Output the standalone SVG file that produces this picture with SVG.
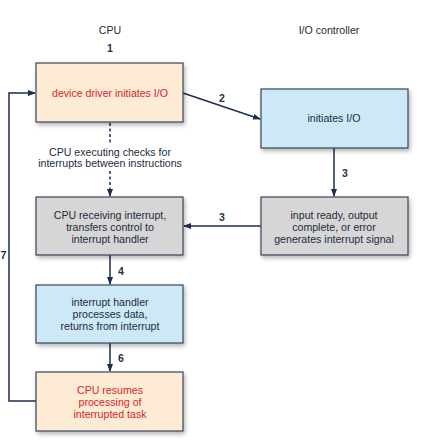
<svg xmlns="http://www.w3.org/2000/svg" width="425" height="448" viewBox="0 0 425 448">
<defs>
<style>
text{font-family:"Liberation Sans",Arial,sans-serif;font-size:10.6px;fill:#222b3c;text-anchor:middle}
.red{fill:#d8262b}
.num{font-weight:bold;font-size:10.5px;fill:#223050}
.box{stroke:#3a4459;stroke-width:1.2;filter:url(#sh)}
.peach{fill:#fdebd5}
.blue{fill:#cde9f8}
.gray{fill:#d6d6d6}
.ln{stroke:#1e2d52;stroke-width:1.5;fill:none}
.dash{stroke:#1e2d52;stroke-width:1.5;fill:none;stroke-dasharray:3,2.5}
</style>
<filter id="sh" x="-10%" y="-10%" width="130%" height="130%">
<feDropShadow dx="1.5" dy="2.5" stdDeviation="2" flood-color="#000" flood-opacity="0.3"/>
</filter>
<marker id="ah" markerWidth="8" markerHeight="6" refX="7" refY="3" orient="auto" markerUnits="userSpaceOnUse">
<path d="M0,0 L8,3 L0,6 Z" fill="#1e2d52"/>
</marker>
</defs>
<rect width="425" height="448" fill="#fff"/>
<text x="110" y="34">CPU</text>
<text x="110" y="52" class="num">1</text>
<text x="329" y="34">I/O controller</text>

<g id="connectors">
<line class="ln" x1="183" y1="93" x2="260" y2="119" marker-end="url(#ah)"/>
<text class="num" x="222" y="102">2</text>
<line class="dash" x1="110" y1="123" x2="110" y2="143"/>
<line class="dash" x1="110" y1="171" x2="110" y2="196" marker-end="url(#ah)"/>
<line class="ln" x1="334" y1="148" x2="334" y2="196" marker-end="url(#ah)"/>
<text class="num" x="345" y="177">3</text>
<line class="ln" x1="261" y1="226" x2="184" y2="226" marker-end="url(#ah)"/>
<text class="num" x="222" y="221">3</text>
<line class="ln" x1="110" y1="255" x2="110" y2="284" marker-end="url(#ah)"/>
<text class="num" x="121" y="275">4</text>
<line class="ln" x1="110" y1="343" x2="110" y2="371" marker-end="url(#ah)"/>
<text class="num" x="121" y="362">6</text>
<polyline class="ln" points="36,401 9,401 9,93 35,93" marker-end="url(#ah)"/>
<text class="num" x="3.5" y="259">7</text>
</g>

<g id="n1">
<rect class="box peach" x="36" y="63" width="147" height="59"/>
<text class="red" x="110" y="96.5">device driver initiates I/O</text>
</g>
<g id="n2">
<rect class="box blue" x="261" y="89" width="147" height="59"/>
<text x="334" y="122">initiates I/O</text>
</g>
<g id="note">
<text x="110" y="155.5">CPU executing checks for</text>
<text x="110" y="166.5">interrupts between instructions</text>
</g>
<g id="n3">
<rect class="box gray" x="36" y="197" width="147" height="58"/>
<text x="110" y="218.5">CPU receiving interrupt,</text>
<text x="110" y="230.5">transfers control to</text>
<text x="110" y="242.5">interrupt handler</text>
</g>
<g id="n4">
<rect class="box gray" x="261" y="197" width="147" height="58"/>
<text x="334" y="218.5">input ready, output</text>
<text x="334" y="230.5">complete, or error</text>
<text x="334" y="242.5">generates interrupt signal</text>
</g>
<g id="n5">
<rect class="box blue" x="36" y="285" width="147" height="58"/>
<text x="110" y="305.5">interrupt handler</text>
<text x="110" y="317.5">processes data,</text>
<text x="110" y="329.5">returns from interrupt</text>
</g>
<g id="n6">
<rect class="box peach" x="36" y="372" width="147" height="59"/>
<text class="red" x="110" y="393.5">CPU resumes</text>
<text class="red" x="110" y="405.5">processing of</text>
<text class="red" x="110" y="417.5">interrupted task</text>
</g>
</svg>
